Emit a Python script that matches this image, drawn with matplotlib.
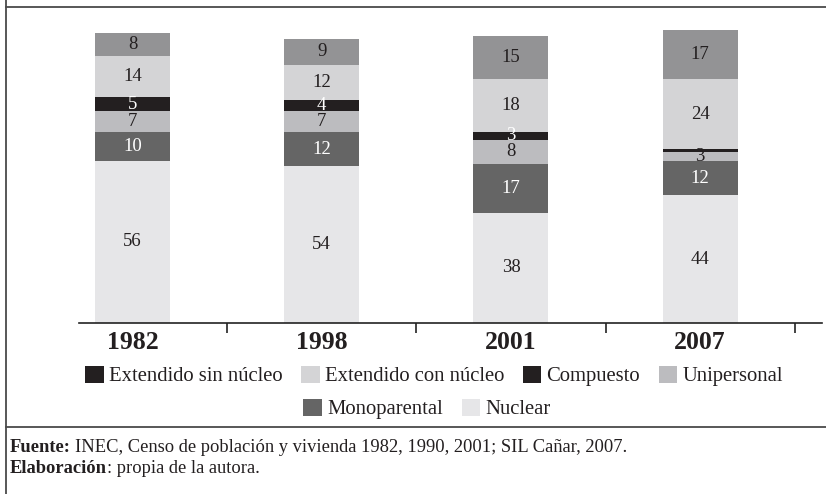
import matplotlib
matplotlib.use("Agg")
import matplotlib.pyplot as plt
from matplotlib.lines import Line2D
from matplotlib.patches import Patch

plt.rcParams['font.family'] = ['Liberation Serif', 'DejaVu Serif']

years = ["1982", "1998", "2001", "2007"]
# stacking order bottom -> top
series_names = ["Nuclear", "Monoparental", "Unipersonal", "Compuesto",
                "Extendido con núcleo", "Extendido sin núcleo"]
nuclear = [56, 54, 38, 44]
monoparental = [10, 12, 17, 12]
unipersonal = [7, 7, 8, 3]
compuesto = [5, 4, 3, 1]
ext_con = [14, 12, 18, 24]
ext_sin = [8, 9, 15, 17]
series_values = [nuclear, monoparental, unipersonal, compuesto, ext_con, ext_sin]

seg_colors = {
    "Nuclear": "#e6e6e8",
    "Monoparental": "#656565",
    "Unipersonal": "#bcbcbf",
    "Compuesto": "#231f20",
    "Extendido con núcleo": "#d4d4d6",
    "Extendido sin núcleo": "#939395",
}
label_colors = {
    "Nuclear": "#231f20",
    "Monoparental": "white",
    "Unipersonal": "#231f20",
    "Compuesto": "white",
    "Extendido con núcleo": "#231f20",
    "Extendido sin núcleo": "#231f20",
}
legend_row1 = [("Extendido sin núcleo", "#231f20"), ("Extendido con núcleo", "#d4d4d6"),
               ("Compuesto", "#231f20"), ("Unipersonal", "#bcbcbf")]
legend_row2 = [("Monoparental", "#656565"), ("Nuclear", "#e6e6e8")]

W, H = 826, 494
fig = plt.figure(figsize=(W / 100, H / 100), dpi=100)

ax = fig.add_axes([79 / W, (H - 323) / H, 743 / W, 313 / H])
x = list(range(len(years)))
bottom = [0] * len(years)
for name, vals in zip(series_names, series_values):
    ax.bar(x, vals, width=0.396, bottom=bottom, color=seg_colors[name],
           linewidth=0, zorder=2)
    for xi, v, b in zip(x, vals, bottom):
        if v >= 2:
            ax.text(xi, b + v / 2, f"{v}", ha="center", va="center",
                    fontsize=13.5, color=label_colors[name], zorder=3)
    bottom = [b + v for b, v in zip(bottom, vals)]

ax.set_xlim(-0.283, 3.644)
ax.set_ylim(0, 313 / 2.9)
for s in ["top", "right", "left"]:
    ax.spines[s].set_visible(False)
ax.spines["bottom"].set_color("#222222")
ax.spines["bottom"].set_linewidth(1.2)
ax.set_yticks([])
ax.set_xticks(x)
ax.set_xticklabels(years, fontsize=18.5, fontweight="bold", color="#231f20")
ax.tick_params(axis="x", which="major", length=0, pad=6)
ax.set_xticks([0.5, 1.5, 2.5, 3.5], minor=True)
ax.tick_params(axis="x", which="minor", length=7.5, width=1.2, color="#222222",
               direction="out")

# legends
def make_handles(items):
    return [Patch(facecolor=c, edgecolor="none", label=n) for n, c in items]

leg_kw = dict(loc="center", frameon=False, fontsize=14.9, handlelength=0.9,
              handleheight=0.9, handletextpad=0.25, columnspacing=0.9,
              borderpad=0, borderaxespad=0)
leg1 = fig.legend(handles=make_handles(legend_row1),
                  bbox_to_anchor=(434 / W, (H - 376) / H), ncol=4, **leg_kw)
leg2 = fig.legend(handles=make_handles(legend_row2),
                  bbox_to_anchor=(427 / W, (H - 409) / H), ncol=2, **leg_kw)
for leg in (leg1, leg2):
    for t in leg.get_texts():
        t.set_color("#231f20")

# frame lines
lc = "#4a4a4a"
fig.add_artist(Line2D([6 / W, 6 / W], [0, 1], transform=fig.transFigure,
                      color=lc, linewidth=1.3))
fig.add_artist(Line2D([6 / W, 1], [(H - 7.5) / H] * 2, transform=fig.transFigure,
                      color=lc, linewidth=1.3))
fig.add_artist(Line2D([6 / W, 1], [(H - 427) / H] * 2, transform=fig.transFigure,
                      color=lc, linewidth=1.3))

# footnotes
renderer = fig.canvas.get_renderer()
def rich_line(ypix, bold, normal, gap, size=13.3):
    t1 = fig.text(10 / W, (H - ypix) / H, bold, fontsize=size, fontweight="bold",
                  va="center", ha="left", color="#231f20")
    bb = t1.get_window_extent(renderer=renderer)
    fig.text((bb.x1 + gap) / W, (H - ypix) / H, normal, fontsize=size,
             va="center", ha="left", color="#231f20")

rich_line(447, "Fuente:", "INEC, Censo de población y vivienda 1982, 1990, 2001; SIL Cañar, 2007.", 4)
rich_line(468, "Elaboración", ": propia de la autora.", 0)

fig.savefig("out.png", dpi=100)
